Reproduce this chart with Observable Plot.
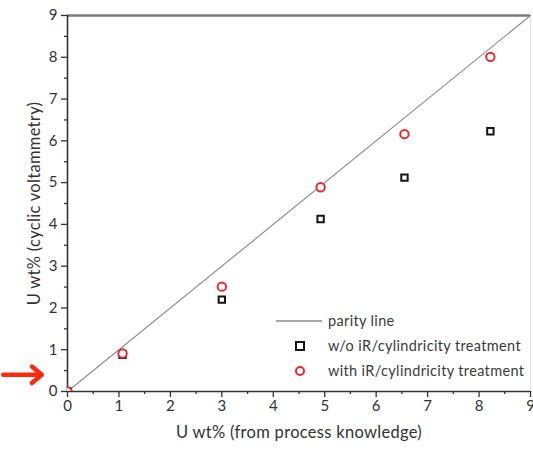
<!DOCTYPE html>
<html>
<head>
<meta charset="utf-8">
<script src="https://cdn.jsdelivr.net/npm/d3@7"></script>
<script src="https://cdn.jsdelivr.net/npm/@observablehq/plot@0.6"></script>
<style>
  html, body { margin: 0; padding: 0; background: #fff; }
  #wrap { position: relative; width: 533px; height: 454px; overflow: hidden; font-family: Lato, "Open Sans", sans-serif; }
  #legend { position: absolute; left: 276px; top: 308px; font-size: 14.5px; letter-spacing: 0.35px; color: #3a3a3a; }
  #legend .row { display: flex; align-items: center; height: 25px; }
  #legend .sym { width: 48px; display: flex; justify-content: center; align-items: center; margin-right: 4px; }
</style>
</head>
<body>
<div id="wrap"></div>
<script>
// ---- data ----
const processU = [0, 1.07, 3.0, 4.92, 6.55, 8.22];          // U wt% (from process knowledge)
const cvWithout = [0, 0.88, 2.2, 4.13, 5.12, 6.23];          // w/o iR/cylindricity treatment
const cvWith = [0, 0.91, 2.51, 4.89, 6.16, 8.01];            // with iR/cylindricity treatment
const parityX = [0, 9];
const xTicks = [0, 1, 2, 3, 4, 5, 6, 7, 8, 9];
const yTicks = [0, 1, 2, 3, 4, 5, 6, 7, 8, 9];
const minorTicks = [0.5, 1.5, 2.5, 3.5, 4.5, 5.5, 6.5, 7.5, 8.5];
const legendLabels = ["parity line", "w/o iR/cylindricity treatment", "with iR/cylindricity treatment"];
const arrowAnno = [{x1: -1.25, x2: -0.5, y: 0.4}];

const RED = "#e8282e";
const BLACK = "#151515";

const withoutData = processU.map((x, i) => ({x, y: cvWithout[i]}));
const withData = processU.map((x, i) => ({x, y: cvWith[i]}));
const parity = parityX.map(v => ({x: v, y: v}));

const font = "Lato, 'Open Sans', sans-serif";

const chart = Plot.plot({
  width: 533,
  height: 454,
  marginLeft: 67,
  marginRight: 3,
  marginTop: 15,
  marginBottom: 63,
  style: {fontFamily: font, fontSize: "15px", color: "#333", background: "#fff", overflow: "visible"},
  x: {domain: [0, 9]},
  y: {domain: [0, 9]},
  marks: [
    Plot.ruleY([9], {stroke: "#7a7a7a", strokeWidth: 2.5}),
    Plot.ruleX([9], {stroke: "#e4e4e4", strokeWidth: 1}),
    Plot.line(parity, {x: "x", y: "y", stroke: "#8a8a8a", strokeWidth: 1.1}),
    Plot.axisX({ticks: minorTicks, tickSize: 3, text: null, stroke: "#333", strokeWidth: 1.3, label: null}),
    Plot.axisY({ticks: minorTicks, tickSize: 3, text: null, stroke: "#333", strokeWidth: 1.3, label: null}),
    Plot.axisX({ticks: xTicks, tickSize: 6, tickPadding: 3, fontSize: 15, stroke: "#333", strokeWidth: 1.3, tickFormat: d3.format("d"),
      label: "U wt% (from process knowledge)", labelAnchor: "center", labelOffset: 46, labelArrow: "none"}),
    Plot.axisY({ticks: yTicks, tickSize: 6, tickPadding: 4, fontSize: 15, stroke: "#333", strokeWidth: 1.3, tickFormat: d3.format("d"),
      label: "U wt% (cyclic voltammetry)", labelAnchor: "center", labelOffset: 39, labelArrow: "none"}),
    Plot.ruleY([0], {stroke: "#333", strokeWidth: 1.6}),
    Plot.ruleX([0], {stroke: "#333", strokeWidth: 1.6}),
    Plot.dot(withoutData, {x: "x", y: "y", symbol: "square", r: 3.6, stroke: BLACK, strokeWidth: 2, fill: "white", clip: true}),
    Plot.dot(withData, {x: "x", y: "y", symbol: "circle", r: 4.2, stroke: RED, strokeWidth: 2, fill: "white", clip: true}),
    Plot.arrow(arrowAnno, {x1: "x1", x2: "x2", y1: "y", y2: "y", stroke: "#ff2a10", strokeWidth: 4.5, headLength: 18, headAngle: 80})
  ]
});

const wrap = document.getElementById("wrap");
wrap.appendChild(chart);
chart.querySelectorAll("text").forEach(t => { if (t.textContent.length > 3) { t.setAttribute("font-size", "16.5"); t.setAttribute("letter-spacing", "0.3"); } });

// legend
const legend = document.createElement("div");
legend.id = "legend";
const syms = [
  '<svg width="48" height="10"><line x1="0" y1="5" x2="46" y2="5" stroke="#8a8a8a" stroke-width="1.3"/></svg>',
  '<svg width="12" height="12"><rect x="2" y="2" width="8" height="8" fill="white" stroke="' + BLACK + '" stroke-width="2"/></svg>',
  '<svg width="12" height="12"><circle cx="6" cy="6" r="4" fill="white" stroke="' + RED + '" stroke-width="2"/></svg>'
];
legendLabels.forEach((lab, i) => {
  const row = document.createElement("div");
  row.className = "row";
  row.innerHTML = '<span class="sym">' + syms[i] + '</span><span>' + lab + '</span>';
  legend.appendChild(row);
});
wrap.appendChild(legend);
</script>
</body>
</html>
